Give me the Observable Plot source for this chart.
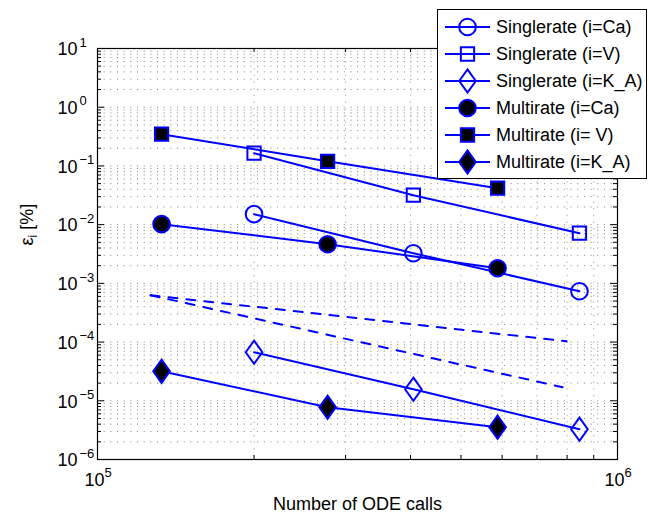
<!DOCTYPE html>
<html><head><meta charset="utf-8">
<script src="https://cdn.jsdelivr.net/npm/d3@7"></script>
<script src="https://cdn.jsdelivr.net/npm/@observablehq/plot@0.6"></script>
<style>
html,body{margin:0;padding:0;background:#fff;}
#wrap{position:relative;width:649px;height:514px;font-family:"Liberation Sans",Arial,Helvetica,sans-serif;}
#legend{position:absolute;left:437px;top:9px;}
</style></head><body><div id="wrap"></div>
<script>
// ---- data ----
const singleCalls = [2.0e5, 4.05e5, 8.45e5];
const multiCalls  = [1.328e5, 2.77e5, 5.88e5];
const singleCa = [0.0151, 0.00326, 0.000734];
const singleV  = [0.165, 0.0317, 0.00714];
const singleKA = [6.7e-5, 1.57e-5, 3.28e-6];
const multiCa  = [0.0102, 0.00464, 0.00181];
const multiV   = [0.347, 0.120, 0.0418];
const multiKA  = [3.18e-5, 7.76e-6, 3.55e-6];
const refOrder1X = [1.265e5, 7.98e5];
const refOrder1Y = [6.28e-4, 1.03e-4];
const refOrder2X = [1.265e5, 7.84e5];
const refOrder2Y = [6.28e-4, 1.70e-5];
const seriesNames = ["Singlerate (i=Ca)", "Singlerate (i=V)", "Singlerate (i=K_A)",
                     "Multirate (i=Ca)", "Multirate (i= V)", "Multirate (i=K_A)"];
const yMajorExponents = [1, 0, -1, -2, -3, -4, -5, -6];
const xMajorExponents = [5, 6];
const minorMultipliers = [2, 3, 4, 5, 6, 7, 8, 9];
const xLabel = "Number of ODE calls";
const yLabel = "ε_i [%]";

// ---- derived tick tables ----
const yMajor = yMajorExponents.map(e => Math.pow(10, e));
const yMinor = yMajorExponents.filter(e => e < 1).flatMap(e => minorMultipliers.map(m => m * Math.pow(10, e)));
const xMajor = xMajorExponents.map(e => Math.pow(10, e));
const xMinor = minorMultipliers.map(m => m * Math.pow(10, xMajorExponents[0]));
const fmtExp = e => (e < 0 ? "\u2212" + (-e) : String(e));

// ---- MATLAB-like marker symbols ----
const symCircle = {draw(ctx, size) { const r = Math.sqrt(size / Math.PI); ctx.moveTo(r, 0); ctx.arc(0, 0, r, 0, 2 * Math.PI); ctx.closePath(); }};
const symSquare = {draw(ctx, size) { const r = Math.sqrt(size / Math.PI), h = r * 0.8; ctx.moveTo(-h, -h); ctx.lineTo(h, -h); ctx.lineTo(h, h); ctx.lineTo(-h, h); ctx.closePath(); }};
const symDiamond = {draw(ctx, size) { const r = Math.sqrt(size / Math.PI), w = r * 1.0, h = r * 1.4; ctx.moveTo(0, -h); ctx.lineTo(w, 0); ctx.lineTo(0, h); ctx.lineTo(-w, 0); ctx.closePath(); }};

const BLUE = "#0000ff";
const R = 8.3;
const series = [
  {name: seriesNames[0], x: singleCalls, y: singleCa, symbol: symCircle, fill: "none"},
  {name: seriesNames[1], x: singleCalls, y: singleV, symbol: symSquare, fill: "none"},
  {name: seriesNames[2], x: singleCalls, y: singleKA, symbol: symDiamond, fill: "none"},
  {name: seriesNames[3], x: multiCalls, y: multiCa, symbol: symCircle, fill: "black"},
  {name: seriesNames[4], x: multiCalls, y: multiV, symbol: symSquare, fill: "black"},
  {name: seriesNames[5], x: multiCalls, y: multiKA, symbol: symDiamond, fill: "black"}
].map(s => ({...s, rows: s.x.map((xv, i) => ({x: xv, y: s.y[i]}))}));
const refLines = [
  refOrder1X.map((xv, i) => ({x: xv, y: refOrder1Y[i]})),
  refOrder2X.map((xv, i) => ({x: xv, y: refOrder2Y[i]}))
];

const W = 649, H = 514, ML = 97, MR = 32, MT = 48, MB = 55;
const IW = W - ML - MR, IH = H - MT - MB;

const marks = [
  Plot.ruleY([...yMajor, ...yMinor], {stroke: "#808080", strokeWidth: 1, strokeDasharray: "1,5.67"}),
  Plot.ruleX(xMinor, {stroke: "#b4b4b4", strokeWidth: 1, strokeDasharray: "1.5,5.17"}),
  // inward ticks on all four sides
  Plot.tickY(yMajor, {stroke: "black", insetRight: IW - 7}),
  Plot.tickY(yMinor, {stroke: "black", insetRight: IW - 4}),
  Plot.tickY(yMajor, {stroke: "black", insetLeft: IW - 7}),
  Plot.tickY(yMinor, {stroke: "black", insetLeft: IW - 4}),
  Plot.tickX(xMinor, {stroke: "black", insetTop: IH - 4}),
  Plot.tickX(xMinor, {stroke: "black", insetBottom: IH - 4}),
  Plot.frame({stroke: "black", strokeWidth: 1.2}),
  // reference slopes
  ...refLines.map(rows => Plot.line(rows, {x: "x", y: "y", stroke: BLUE, strokeWidth: 2, strokeDasharray: "9,9"})),
  // series lines and markers
  ...series.map(s => Plot.line(s.rows, {x: "x", y: "y", stroke: BLUE, strokeWidth: 2})),
  ...series.map(s => Plot.dot(s.rows, {x: "x", y: "y", symbol: s.symbol, r: R, stroke: BLUE, strokeWidth: 2, fill: s.fill})),
  // tick labels
  Plot.text(yMajor, {y: d => d, text: () => "10", frameAnchor: "left", textAnchor: "start", dx: -40, dy: 1, fontSize: 18, lineAnchor: "middle"}),
  Plot.text(yMajor, {y: d => d, text: (d, i) => fmtExp(yMajorExponents[i]), frameAnchor: "left", textAnchor: "start", dx: -18, dy: -6, fontSize: 13, lineAnchor: "middle"}),
  Plot.text(xMajor, {x: d => d, text: () => "10", frameAnchor: "bottom", textAnchor: "middle", dx: -3, dy: 21, fontSize: 18, lineAnchor: "middle"}),
  Plot.text(xMajor, {x: d => d, text: (d, i) => fmtExp(xMajorExponents[i]), frameAnchor: "bottom", textAnchor: "start", dx: 7, dy: 13, fontSize: 13, lineAnchor: "middle"}),
  // axis labels
  Plot.text([xLabel], {text: d => d, frameAnchor: "bottom", dy: 45, fontSize: 18, lineAnchor: "middle"}),
  Plot.text([yLabel], {text: d => d, frameAnchor: "left", dx: -70, dy: -8.5, rotate: -90, fontSize: 18, lineAnchor: "middle"})
];

const chart = Plot.plot({
  width: W, height: H,
  marginLeft: ML, marginRight: MR, marginTop: MT, marginBottom: MB,
  x: {type: "log", domain: [1e5, 1e6], axis: null},
  y: {type: "log", domain: [1e-6, 10], axis: null},
  style: {fontFamily: "'Liberation Sans', Arial, Helvetica, sans-serif", background: "white", color: "black", overflow: "visible"},
  marks
});

// subscript in y label
d3.select(chart).selectAll("text").filter(function () { return this.textContent === yLabel; }).each(function () {
  const t = d3.select(this);
  t.text(null);
  t.append("tspan").text("ε");
  t.append("tspan").attr("font-size", 12).attr("dy", 4).text("i");
  t.append("tspan").attr("dy", -4).text(" [%]");
});

const wrap = document.getElementById("wrap");
wrap.appendChild(chart);

// ---- legend (overlaid on the top-right corner, as in the reference) ----
const LW = 209, LH = 169;
const lg = d3.create("svg").attr("id", "legend").attr("width", LW + 1).attr("height", LH + 1)
  .style("font-family", "'Liberation Sans', Arial, Helvetica, sans-serif");
lg.append("rect").attr("x", 0.5).attr("y", 0.5).attr("width", LW).attr("height", LH)
  .attr("fill", "white").attr("stroke", "black").attr("stroke-width", 1);
series.forEach((s, i) => {
  const cy = 18 + i * 27;
  const g = lg.append("g").attr("transform", `translate(0,${cy})`);
  g.append("line").attr("x1", 8).attr("x2", 53).attr("y1", 0).attr("y2", 0).attr("stroke", BLUE).attr("stroke-width", 2);
  g.append("path").attr("transform", "translate(30.5,0)")
    .attr("d", d3.symbol(s.symbol, Math.PI * R * R)())
    .attr("fill", s.fill).attr("stroke", BLUE).attr("stroke-width", 2);
  g.append("text").attr("x", 59).attr("y", 0).attr("dy", "0.35em").attr("font-size", 18).text(s.name);
});
wrap.appendChild(lg.node());
</script>
</body></html>
